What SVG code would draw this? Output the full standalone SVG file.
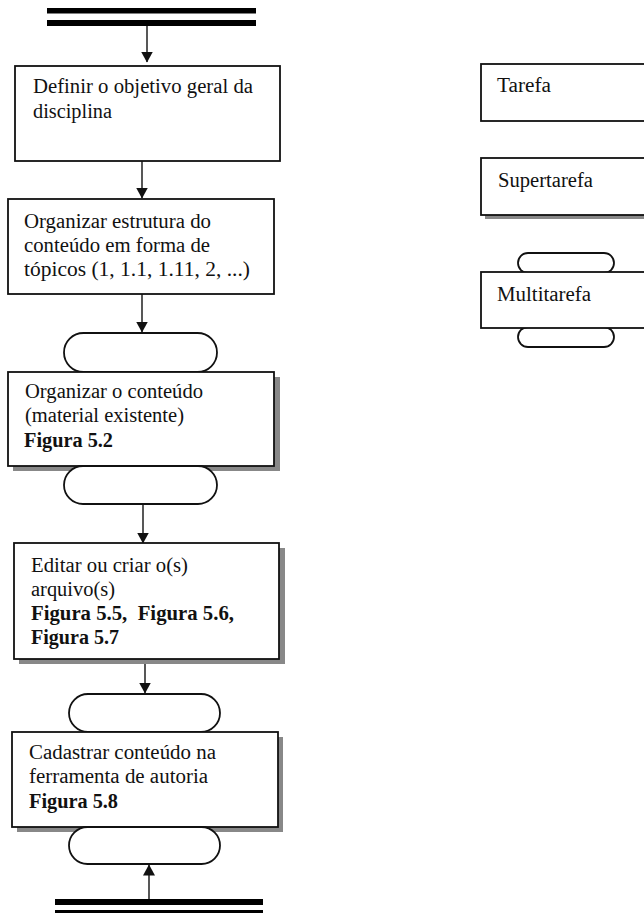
<svg xmlns="http://www.w3.org/2000/svg" width="644" height="913" viewBox="0 0 644 913">
<style>
.box{fill:#fff;stroke:#111;stroke-width:1.8}
.shadow{fill:#888}
.bar{fill:#000}
.conn{stroke:#111;stroke-width:1.4;fill:none}
text{font-family:"Liberation Serif","Times New Roman",serif;font-size:20px;fill:#111}
.b{font-weight:bold}
</style>
<defs>
<marker id="ah" markerWidth="11" markerHeight="13" refX="10.5" refY="6" orient="auto" markerUnits="userSpaceOnUse">
<path d="M0,0 L11,6 L0,12 Z" fill="#111"/>
</marker>
</defs>
<rect width="644" height="913" fill="#fff"/>

<g id="start-bar">
<rect class="bar" x="47" y="8" width="209" height="5.5"/>
<rect class="bar" x="47" y="20" width="209" height="6"/>
</g>

<g id="end-bar">
<rect class="bar" x="55" y="899" width="208" height="6"/>
<rect class="bar" x="55" y="910" width="208" height="6"/>
</g>

<g id="connectors">
<line class="conn" x1="147" y1="26" x2="147" y2="62" marker-end="url(#ah)"/>
<line class="conn" x1="142" y1="161" x2="142" y2="198" marker-end="url(#ah)"/>
<line class="conn" x1="142" y1="294" x2="142" y2="332" marker-end="url(#ah)"/>
<line class="conn" x1="143" y1="504" x2="143" y2="543" marker-end="url(#ah)"/>
<line class="conn" x1="145" y1="659" x2="145" y2="693" marker-end="url(#ah)"/>
<line class="conn" x1="149" y1="899" x2="149" y2="865" marker-end="url(#ah)"/>
</g>

<g id="n1">
<rect class="box" x="15" y="66" width="265" height="95"/>
<text x="33" y="93" textLength="220" lengthAdjust="spacingAndGlyphs">Definir o objetivo geral da</text>
<text x="33" y="118" textLength="79" lengthAdjust="spacingAndGlyphs">disciplina</text>
</g>

<g id="n2">
<rect class="box" x="8" y="199" width="266" height="95"/>
<text x="24" y="228" textLength="187" lengthAdjust="spacingAndGlyphs">Organizar estrutura do</text>
<text x="24" y="252" textLength="186" lengthAdjust="spacingAndGlyphs">conteúdo em forma de</text>
<text x="24" y="276" textLength="226" lengthAdjust="spacingAndGlyphs">tópicos (1, 1.1, 1.11, 2, ...)</text>
</g>

<g id="t1">
<rect class="box" x="64" y="333" width="153" height="39" rx="19.5"/>
</g>

<g id="n3">
<rect class="shadow" x="13" y="377" width="267" height="94"/>
<rect class="box" x="8" y="372" width="266" height="94"/>
<text x="25" y="398" textLength="178" lengthAdjust="spacingAndGlyphs">Organizar o conteúdo</text>
<text x="25" y="422" textLength="159" lengthAdjust="spacingAndGlyphs">(material existente)</text>
<text class="b" x="24" y="447" textLength="89" lengthAdjust="spacingAndGlyphs">Figura 5.2</text>
</g>

<g id="t2">
<rect class="box" x="64" y="466" width="153" height="38" rx="19"/>
</g>

<g id="n4">
<rect class="shadow" x="19" y="548" width="266" height="116"/>
<rect class="box" x="14" y="543" width="265" height="116"/>
<text x="31" y="572" textLength="157" lengthAdjust="spacingAndGlyphs">Editar ou criar o(s)</text>
<text x="31" y="596" textLength="84" lengthAdjust="spacingAndGlyphs">arquivo(s)</text>
<text class="b" x="31" y="620" textLength="203" lengthAdjust="spacingAndGlyphs" xml:space="preserve">Figura 5.5,  Figura 5.6,</text>
<text class="b" x="31" y="644" textLength="88" lengthAdjust="spacingAndGlyphs">Figura 5.7</text>
</g>

<g id="t3">
<rect class="box" x="69" y="694" width="151" height="38" rx="19"/>
</g>

<g id="n5">
<rect class="shadow" x="17" y="737" width="266" height="95"/>
<rect class="box" x="12" y="732" width="266" height="95"/>
<text x="29" y="759" textLength="187" lengthAdjust="spacingAndGlyphs">Cadastrar conteúdo na</text>
<text x="29" y="783" textLength="179" lengthAdjust="spacingAndGlyphs">ferramenta de autoria</text>
<text class="b" x="29" y="808" textLength="89" lengthAdjust="spacingAndGlyphs">Figura 5.8</text>
</g>

<g id="t4">
<rect class="box" x="69" y="827" width="151" height="37" rx="18.5"/>
</g>

<g id="legend-tarefa">
<rect class="box" x="481" y="64" width="200" height="57"/>
<text x="497" y="92" textLength="54" lengthAdjust="spacingAndGlyphs">Tarefa</text>
</g>

<g id="legend-supertarefa">
<rect class="shadow" x="485" y="162" width="200" height="57"/>
<rect class="box" x="481" y="158" width="200" height="57"/>
<text x="498" y="187" textLength="95" lengthAdjust="spacingAndGlyphs">Supertarefa</text>
</g>

<g id="legend-multitarefa">
<rect class="box" x="518" y="253" width="96" height="20" rx="10"/>
<rect class="box" x="518" y="327" width="96" height="20" rx="10"/>
<rect class="box" x="481" y="272" width="200" height="56"/>
<text x="497" y="301" textLength="94" lengthAdjust="spacingAndGlyphs">Multitarefa</text>
</g>
</svg>
